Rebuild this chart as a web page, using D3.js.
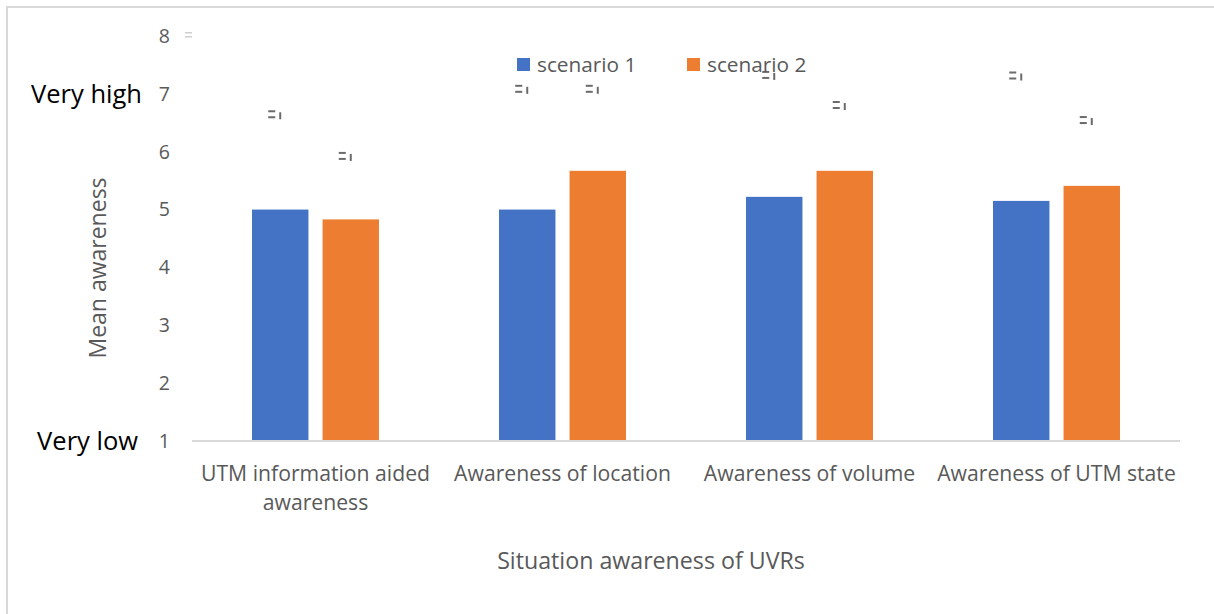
<!DOCTYPE html>
<html><head><meta charset="utf-8">
<script src="https://cdn.jsdelivr.net/npm/d3@7"></script>
<style>body{margin:0;background:#fff}svg{display:block}text{font-family:"Open Sans",Lato,sans-serif}</style>
</head><body><svg id="c" width="1214" height="614"></svg>
<script>
const categories = [["UTM information aided","awareness"],["Awareness of location"],["Awareness of volume"],["Awareness of UTM state"]];
const series = ["scenario 1","scenario 2"];
const colors = ["#4472C4","#ED7D31"];
const scenario1 = [5.0, 5.0, 5.22, 5.15];
const scenario2 = [4.83, 5.67, 5.67, 5.41];
const markTop1 = [6.63, 7.07, 7.31, 7.30];
const markTop2 = [5.91, 7.07, 6.79, 6.53];
const yTicks = [1,2,3,4,5,6,7,8];

const svg = d3.select("#c");
svg.append("rect").attr("x",7).attr("y",7).attr("width",1220).attr("height",620)
  .attr("fill","none").attr("stroke","#d9d9d9").attr("stroke-width",2);

const y = d3.scaleLinear().domain([1,8]).range([441,36]);
const x0 = d3.scaleBand().domain(d3.range(categories.length)).range([192,1180]);
const bw = x0.bandwidth();
const x1 = d3.scaleBand().domain(d3.range(series.length)).range([bw*0.243, bw*0.757]).paddingInner(0.2);

const vals = [scenario1, scenario2];
const tops = [markTop1, markTop2];

svg.append("g").selectAll("text").data(yTicks).join("text")
  .attr("x",170).attr("y",d=>y(d)).attr("dy","0.35em").attr("text-anchor","end")
  .attr("fill","#595959").attr("font-size",19.5).text(d=>d);

vals.forEach((arr,s)=>{
  svg.append("g").selectAll("rect").data(arr).join("rect")
    .attr("x",(d,i)=>x0(i)+x1(s)).attr("width",x1.bandwidth())
    .attr("y",d=>y(d)).attr("height",d=>y(1)-y(d)).attr("fill",colors[s]);
});

svg.append("line").attr("x1",192).attr("x2",1180).attr("y1",y(1)).attr("y2",y(1))
  .attr("stroke","#d9d9d9").attr("stroke-width",2);

tops.forEach((arr,s)=>{
  const g = svg.append("g").attr("fill","#6b6b6b");
  arr.forEach((v,i)=>{
    const cx = x0(i)+x1(s)+x1.bandwidth()/2, cy = y(v);
    g.append("rect").attr("x",cx-12).attr("y",cy-5).attr("width",7).attr("height",2);
    g.append("rect").attr("x",cx-12).attr("y",cy+1).attr("width",7).attr("height",2);
    g.append("rect").attr("x",cx-1).attr("y",cy-3).attr("width",2).attr("height",7);
  });
});
const gy = y(8);
svg.append("rect").attr("x",185).attr("y",gy-4).attr("width",7).attr("height",1.5).attr("fill","#cfcfcf");
svg.append("rect").attr("x",185).attr("y",gy).attr("width",7).attr("height",1.5).attr("fill","#cfcfcf");

const cl = svg.append("g");
categories.forEach((lines,i)=>{
  const t = cl.append("text").attr("x",x0(i)+bw/2).attr("y",481).attr("text-anchor","middle")
    .attr("fill","#595959").attr("font-size",21.2);
  lines.forEach((ln,k)=>t.append("tspan").attr("x",x0(i)+bw/2).attr("dy",k?29:0).text(ln));
});

svg.append("text").attr("x",651).attr("y",569).attr("text-anchor","middle")
  .attr("fill","#595959").attr("font-size",23.2).text("Situation awareness of UVRs");
svg.append("text").attr("transform","translate(106,268) rotate(-90)").attr("text-anchor","middle")
  .attr("fill","#595959").attr("font-size",23).text("Mean awareness");

svg.append("text").attr("x",142).attr("y",y(7)).attr("dy","0.35em").attr("text-anchor","end")
  .attr("fill","#000").attr("font-size",25.5).text("Very high");
svg.append("text").attr("x",138).attr("y",y(1)).attr("dy","0.35em").attr("text-anchor","end")
  .attr("fill","#000").attr("font-size",25.5).text("Very low");

const lg = svg.append("g");
const lx = [517, 687];
series.forEach((s,k)=>{
  lg.append("rect").attr("x",lx[k]).attr("y",58).attr("width",13).attr("height",13).attr("fill",colors[k]);
  lg.append("text").attr("x",lx[k]+20).attr("y",65).attr("dy","0.35em")
    .attr("fill","#595959").attr("font-size",20.8).text(s);
});
</script></body></html>
